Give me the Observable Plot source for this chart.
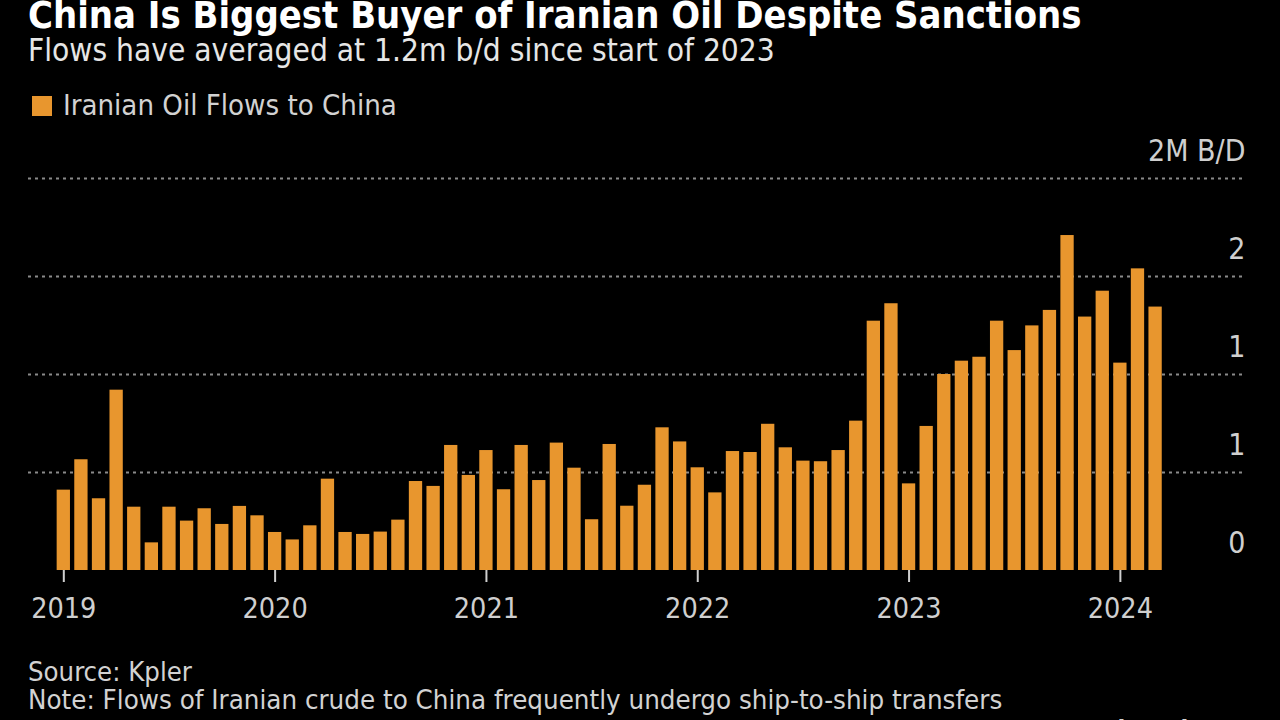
<!DOCTYPE html>
<html>
<head>
<meta charset="utf-8">
<script src="https://cdn.jsdelivr.net/npm/d3@7"></script>
<script src="https://cdn.jsdelivr.net/npm/@observablehq/plot@0.6"></script>
<style>
  html, body { margin: 0; padding: 0; background: #000; width: 1280px; height: 720px; overflow: hidden; }
  #page { position: relative; width: 1280px; height: 720px; background: #000; overflow: hidden; }
  #texts { position: absolute; left: 0; top: 0; }
  #chart { position: absolute; left: 0; top: 130px; }
  .f { font-family: "DejaVu Sans Condensed", "Liberation Sans Narrow", "DejaVu Sans", sans-serif; }
</style>
</head>
<body>
<div id="page">
  <div id="chart"></div>
  <svg id="texts" width="1280" height="720" class="f"></svg>
</div>
<script>
// ---- data ----
const startMonth = "2019-01";
const flows2019 = [0.41, 0.565, 0.366, 0.92, 0.323, 0.141, 0.323, 0.252, 0.315, 0.235, 0.327, 0.279];
const flows2020 = [0.194, 0.156, 0.228, 0.466, 0.194, 0.184, 0.196, 0.257, 0.454, 0.429, 0.638, 0.485];
const flows2021 = [0.612, 0.412, 0.638, 0.459, 0.65, 0.522, 0.259, 0.643, 0.328, 0.435, 0.728, 0.656];
const flows2022 = [0.524, 0.396, 0.607, 0.602, 0.746, 0.626, 0.558, 0.555, 0.612, 0.762, 1.272, 1.361];
const flows2023 = [0.442, 0.735, 1.0, 1.068, 1.088, 1.272, 1.122, 1.248, 1.327, 1.709, 1.293, 1.425];
const flows2024 = [1.058, 1.539, 1.344];
const yearTicks = ["2019", "2020", "2021", "2022", "2023", "2024"];
const yTickValues = [0, 0.5, 1, 1.5, 2];
const yTickLabels = ["0", "1", "1", "2", "2M B/D"];
const seriesName = "Iranian Oil Flows to China";
const title = "China Is Biggest Buyer of Iranian Oil Despite Sanctions";
const subtitle = "Flows have averaged at 1.2m b/d since start of 2023";
const source = "Source: Kpler";
const note = "Note: Flows of Iranian crude to China frequently undergo ship-to-ship transfers";

// ---- build table ----
const values = [...flows2019, ...flows2020, ...flows2021, ...flows2022, ...flows2023, ...flows2024];
const start = new Date(startMonth + "-01T00:00:00Z");
const months = d3.utcMonth.range(start, d3.utcMonth.offset(start, values.length)).map(d => d3.utcFormat("%Y-%m")(d));
const data = months.map((m, i) => ({month: m, value: values[i]}));
const janTicks = yearTicks.map(y => y + "-01");

const BAR = "#e8962e";
const FONT = '"DejaVu Sans Condensed", "Liberation Sans Narrow", "DejaVu Sans", sans-serif';

const chart = Plot.plot({
  width: 1280,
  height: 500,
  marginLeft: 28,
  marginRight: 37,
  marginTop: 48,
  marginBottom: 60,
  style: {background: "#000", fontFamily: FONT},
  x: {type: "band", domain: months, range: [54.5, 1163.9], paddingInner: 0.245, paddingOuter: 0.1225, align: 0.5, label: null},
  y: {domain: [0, 2], range: [440, 48], label: null},
  marks: [
    Plot.ruleY(yTickValues.filter(v => v > 0), {stroke: "#8a8a8a", strokeWidth: 2, strokeDasharray: "3,4"}),
    Plot.barY(data, {x: "month", y: "value", fill: BAR}),
    Plot.ruleY([0], {stroke: "#cfcfcf", strokeWidth: 2.5, x1: 28, x2: 1245}),
    Plot.axisX({ticks: janTicks, tickFormat: d => d.slice(0, 4), tickSize: 12, tickPadding: 15, fontSize: 28.5, color: "#cfcfcf", strokeWidth: 2, label: null}),
    Plot.text(yTickValues, {y: d => d, text: (d, i) => yTickLabels[i], frameAnchor: "right", textAnchor: "end", dx: 2, dy: -27, fontSize: 30, fill: "#cfcfcf"})
  ]
});
document.getElementById("chart").appendChild(chart);

// ---- texts (SVG overlay), fitted to reference widths ----
const svg = d3.select("#texts");
function addText(t, x, y, size, fill, weight, targetW) {
  const el = svg.append("text").attr("x", x).attr("y", y).attr("font-size", size)
    .attr("fill", fill).attr("font-weight", weight).text(t);
  if (targetW) {
    const w = el.node().getComputedTextLength();
    if (w > 0) el.attr("font-size", size * targetW / w);
  }
  return el;
}
addText(title, 28, 28, 32, "#ffffff", "bold", 1054);
addText(subtitle, 28, 61, 26, "#e6e6e6", "normal", 747);
svg.append("rect").attr("x", 32).attr("y", 96).attr("width", 20).attr("height", 20).attr("fill", BAR);
addText(seriesName, 63, 115, 26, "#d2d2d2", "normal", 334);
addText(source, 28, 681, 24, "#d2d2d2", "normal", 164);
addText(note, 28, 709, 24, "#d2d2d2", "normal", 975);
addText("Bloomberg", 1100, 738, 30, "#d2d2d2", "bold", 140);
</script>
</body>
</html>
